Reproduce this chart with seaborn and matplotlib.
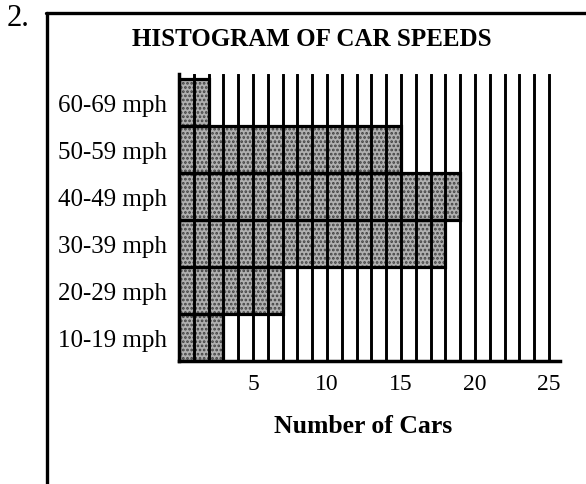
import matplotlib
matplotlib.use("Agg")
import matplotlib.pyplot as plt
from matplotlib.lines import Line2D
import seaborn as sns
import pandas as pd

categories = ["60-69 mph", "50-59 mph", "40-49 mph", "30-39 mph", "20-29 mph", "10-19 mph"]
counts = [2, 15, 19, 18, 7, 3]
xticks = [5, 10, 15, 20, 25]
title = "HISTOGRAM OF CAR SPEEDS"
xlabel = "Number of Cars"

df = pd.DataFrame({"speed": categories, "cars": counts})

sns.set_theme(style="white")
plt.rcParams["font.family"] = ["Liberation Serif", "DejaVu Serif"]
plt.rcParams["hatch.linewidth"] = 1.3

W, H = 586, 485
fig = plt.figure(figsize=(W / 100, H / 100), dpi=100)
ax = fig.add_axes([179 / W, 1 - 362 / H, 381 / W, 287 / H])

# textured fill
sns.barplot(data=df, x="cars", y="speed", order=categories, orient="h",
            color="#b0b0b0", saturation=1, width=1, edgecolor="#404040",
            linewidth=0, hatch="....", ax=ax, zorder=1)
# bar outlines
sns.barplot(data=df, x="cars", y="speed", order=categories, orient="h",
            fill=False, width=1, edgecolor="black", linewidth=2.3,
            ax=ax, zorder=3)

for v in range(1, 26):
    ax.axvline(v, color="black", lw=2.1, zorder=2)

ax.set_xlim(0, 25.75)
ax.set_ylim(5.5, -0.6)
ax.set_xticks(xticks)
ax.set_xticklabels([str(t) for t in xticks], fontsize=17)
ax.tick_params(axis="x", direction="out", length=6, width=1.5, color="black", pad=3)
ax.tick_params(axis="y", length=0, pad=9, labelsize=18)
for lbl in ax.get_yticklabels():
    lbl.set_color("black")
for lbl in ax.get_xticklabels():
    lbl.set_color("black")

ax.set_ylabel("")
ax.set_xlabel(xlabel, fontsize=18.5, fontweight="bold", color="black")
ax.xaxis.set_label_coords((363 - 179) / 381, -(427 - 362) / 287)
ax.xaxis.label.set_va("center")

for s in ["top", "right"]:
    ax.spines[s].set_visible(False)
for s in ["left", "bottom"]:
    ax.spines[s].set_color("black")
    ax.spines[s].set_linewidth(2.5)
    ax.spines[s].set_zorder(4)

fig.text(312 / W, 1 - 40 / H, title, ha="center", va="center",
         fontsize=18, fontweight="bold", color="black")
fig.text(7 / W, 1 - 18 / H, "2.", ha="left", va="center", fontsize=22, color="black")

fig.add_artist(Line2D([46 / W, 1.0], [1 - 14 / H, 1 - 14 / H], color="black", lw=2.4,
                      transform=fig.transFigure))
fig.add_artist(Line2D([47 / W, 47 / W], [1 - 14 / H, 0], color="black", lw=2.4,
                      transform=fig.transFigure))

fig.savefig("out.png", dpi=100)
